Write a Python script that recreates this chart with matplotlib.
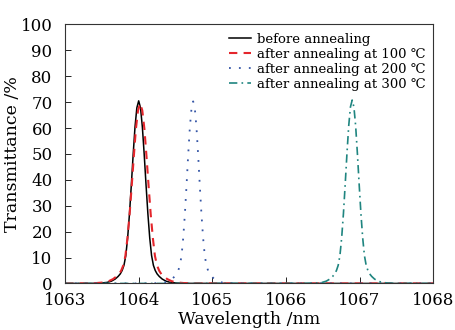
import matplotlib
matplotlib.use("Agg")
import matplotlib.pyplot as plt

plt.rcParams['font.family'] = ['DejaVu Serif', 'DejaVu Sans']
plt.rcParams['mathtext.fontset'] = 'dejavuserif'

# --- data ---
wl_before = [1063.00, 1063.35, 1063.48, 1063.57, 1063.63, 1063.68, 1063.72, 1063.75, 1063.775,
             1063.80, 1063.825, 1063.85, 1063.875, 1063.90, 1063.925, 1063.95, 1063.975, 1064.00,
             1064.025, 1064.05, 1064.075, 1064.10, 1064.125, 1064.15, 1064.175, 1064.20, 1064.225,
             1064.25, 1064.28, 1064.32, 1064.37, 1064.43, 1064.52, 1064.65, 1068.00]
t_before = [0, 0.03, 0.15, 0.4, 0.9, 1.7, 2.7, 3.7, 5.0, 7.0, 10.8, 17.6, 26.9, 38.0, 49.8, 60.4, 67.8, 70.5,
            67.8, 60.4, 49.8, 38.0, 26.9, 17.6, 10.8, 7.0, 5.0, 3.7, 2.7, 1.7, 0.9, 0.4, 0.15, 0.03, 0]

wl_100 = [1063.00, 1063.27, 1063.422, 1063.525, 1063.594, 1063.652, 1063.698, 1063.732, 1063.761,
          1063.79, 1063.819, 1063.847, 1063.876, 1063.905, 1063.934, 1063.962, 1063.991, 1064.02,
          1064.049, 1064.078, 1064.106, 1064.135, 1064.164, 1064.193, 1064.221, 1064.25, 1064.279,
          1064.308, 1064.342, 1064.388, 1064.446, 1064.515, 1064.618, 1064.77, 1068.00]
t_100 = [0, 0.03, 0.15, 0.4, 0.9, 1.7, 2.7, 3.6, 4.9, 6.9, 10.6, 17.4, 26.5, 37.5, 49.1, 59.6, 66.8, 69.5,
         66.8, 59.6, 49.1, 37.5, 26.5, 17.4, 10.6, 6.9, 4.9, 3.6, 2.7, 1.7, 0.9, 0.4, 0.15, 0.03, 0]

wl_200 = [1063.00, 1064.155, 1064.272, 1064.353, 1064.407, 1064.452, 1064.488, 1064.515, 1064.5375,
          1064.56, 1064.5825, 1064.605, 1064.6275, 1064.65, 1064.6725, 1064.695, 1064.7175, 1064.74,
          1064.7625, 1064.785, 1064.8075, 1064.83, 1064.8525, 1064.875, 1064.8975, 1064.92, 1064.9425,
          1064.965, 1064.992, 1065.028, 1065.073, 1065.127, 1065.208, 1065.325, 1068.00]
t_200 = [0, 0.03, 0.15, 0.4, 0.9, 1.7, 2.7, 3.7, 5.0, 7.0, 10.8, 17.6, 26.8, 37.9, 49.7, 60.2, 67.6, 70.3,
         67.6, 60.2, 49.7, 37.9, 26.8, 17.6, 10.8, 7.0, 5.0, 3.7, 2.7, 1.7, 0.9, 0.4, 0.15, 0.03, 0]

wl_300 = [1063.00, 1066.2825, 1066.406, 1066.4915, 1066.5485, 1066.596, 1066.634, 1066.6625, 1066.68625,
          1066.71, 1066.73375, 1066.7575, 1066.78125, 1066.805, 1066.82875, 1066.8525, 1066.87625, 1066.90,
          1066.92375, 1066.9475, 1066.97125, 1066.995, 1067.01875, 1067.0425, 1067.06625, 1067.09, 1067.11375,
          1067.1375, 1067.166, 1067.204, 1067.2515, 1067.3085, 1067.394, 1067.5175, 1068.00]
t_300 = [0, 0.03, 0.15, 0.4, 0.9, 1.7, 2.7, 3.7, 5.0, 7.0, 10.8, 17.7, 27.0, 38.2, 50.0, 60.7, 68.1, 70.8,
         68.1, 60.7, 50.0, 38.2, 27.0, 17.7, 10.8, 7.0, 5.0, 3.7, 2.7, 1.7, 0.9, 0.4, 0.15, 0.03, 0]

labels = ['before annealing', 'after annealing at 100 \u2103',
          'after annealing at 200 \u2103', 'after annealing at 300 \u2103']
x_ticks = [1063, 1064, 1065, 1066, 1067, 1068]
y_ticks = [0, 10, 20, 30, 40, 50, 60, 70, 80, 90, 100]

fig = plt.figure(figsize=(4.55, 3.3), dpi=100)
ax = fig.add_axes([0.143, 0.141, 0.809, 0.785])

ax.plot(wl_before, t_before, color='black', lw=1.1, ls='-', label=labels[0])
ax.plot(wl_100, t_100, color='#e4262c', lw=1.5, ls=(0, (4, 3)), label=labels[1])
ax.plot(wl_200, t_200, color='#3556a6', lw=1.3, ls=(0, (1, 4.5)), label=labels[2])
ax.plot(wl_300, t_300, color='#1f8580', lw=1.2, ls=(0, (5, 2.5, 1, 2.5)), label=labels[3])

ax.set_xlim(1063, 1068)
ax.set_ylim(0, 100)
ax.set_xticks(x_ticks)
ax.set_yticks(y_ticks)
ax.tick_params(direction='in', length=4, width=0.6, labelsize=12, top=False, right=False)
ax.tick_params(axis='x', pad=6.5)
ax.tick_params(axis='y', pad=9)
for s in ax.spines.values():
    s.set_linewidth(0.8)
    s.set_color('#333333')

ax.set_xlabel('Wavelength /nm', fontsize=12.5, labelpad=1)
ax.set_ylabel('Transmittance /%', fontsize=12.5, labelpad=0)

ax.legend(loc='upper right', frameon=False, fontsize=9.5, handlelength=1.6,
          handletextpad=0.5, labelspacing=0.15, borderaxespad=0.15,
          bbox_to_anchor=(1.0, 0.995))

fig.savefig('out.png', dpi=100)
